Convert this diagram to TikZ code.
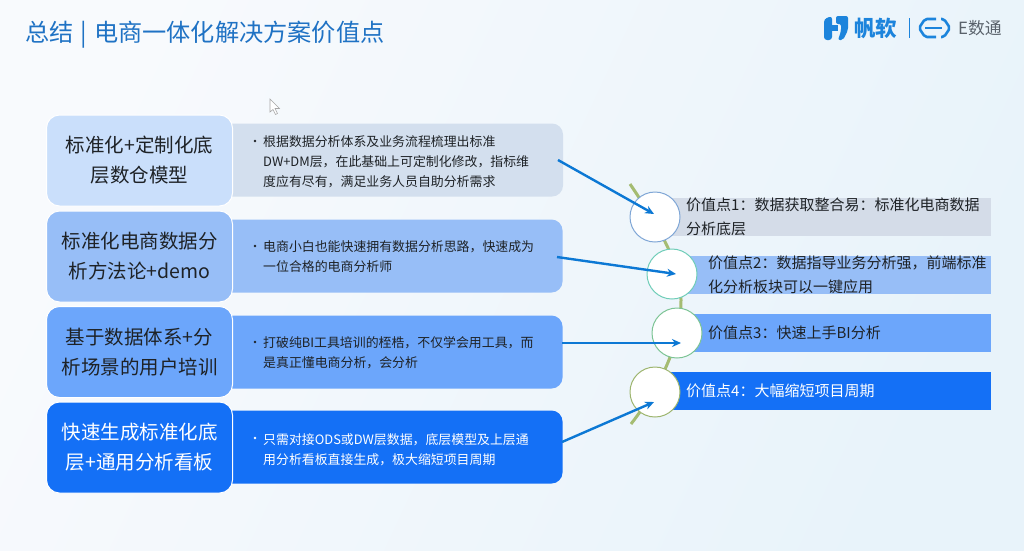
\documentclass[tikz,border=0pt]{standalone}
\usepackage{xcolor}
\usepackage{fontspec}
\setmainfont{Noto Sans CJK SC}
\usetikzlibrary{arrows.meta}
\definecolor{pageleft}{HTML}{F8FAFD}
\definecolor{pageright}{HTML}{E8F3FA}
\definecolor{titleblue}{HTML}{1F72C4}
\definecolor{logoblue}{HTML}{1C84DC}
\definecolor{logogray}{HTML}{5A626B}
\definecolor{inkdark}{HTML}{1E2226}
\definecolor{stemgreen}{HTML}{A5BC72}
\definecolor{linkblue}{HTML}{0C78D4}
\definecolor{toneone}{HTML}{CADFFB}
\definecolor{tonetwo}{HTML}{97BEF7}
\definecolor{tonethree}{HTML}{6CA6FB}
\definecolor{tonefour}{HTML}{1470F6}
\definecolor{detailone}{HTML}{D3DFEE}
\definecolor{barone}{HTML}{D4DCE8}
\definecolor{ringone}{HTML}{7FA6D6}
\definecolor{ringtwo}{HTML}{6FCDB8}
\definecolor{ringthree}{HTML}{7CC494}
\definecolor{ringfour}{HTML}{9DB56E}

\begin{document}
\begin{tikzpicture}[
  x=1pt,
  y=-1pt,
  every node/.style={inkdark},
  topicbox/.style={draw=white, line width=1pt, rounded corners=13pt, minimum width=186pt,
    minimum height=91pt, align=center, inner sep=0pt, font=\fontsize{19.5}{30}\selectfont},
  detailbox/.style={rounded corners=11pt, minimum width=348pt, minimum height=73pt, inner sep=0pt},
  detailtext/.style={anchor=west, align=left, inner sep=0pt, font=\fontsize{12.9}{20}\selectfont},
  dotmark/.style={circle, inner sep=0pt, minimum size=2.6pt},
  valuebar/.style={anchor=east, minimum width=310pt, minimum height=38pt, inner sep=0pt},
  valuetext/.style={anchor=west, align=left, inner sep=0pt, font=\fontsize{15}{24}\selectfont},
  ring/.style={circle, fill=white, line width=1pt, minimum size=50pt, inner sep=0pt},
  link/.style={linkblue, line width=2.4pt, -{Stealth[length=9pt, width=8pt]}},
  stem/.style={stemgreen, line width=3pt}
]
  \useasboundingbox (0,0) rectangle (1024,550);
  % ---- page and heading ------------------------------------------------
  \shade[left color=pageleft, right color=pageright, shading angle=65] (0,0) rectangle (1024,550);
  \node[anchor=west, inner sep=0pt, titleblue, font=\fontsize{24.2}{28}\selectfont] (heading) at (25,35)
    {总结\hspace{7pt}|\hspace{7pt}电商一体化解决方案价值点};

  % ---- logos -----------------------------------------------------------
  \fill[logoblue, rounded corners=3pt] (824,19) -- (832,16) -- (832,40) -- (824,40) -- cycle;
  \fill[logoblue, rounded corners=2pt] (836,16) -- (848,16) -- (848,30) -- (843,40) -- (838,40) -- (841,31) -- (841,24) -- (836,24) -- cycle;
  \fill[logoblue] (832,25) rectangle (838,31);
  \node[anchor=west, inner sep=0pt, logoblue, font=\bfseries\fontsize{21.5}{24}\selectfont] (brand) at (854,28) {帆软};
  \draw[logoblue, line width=1pt] (909,18) -- (909,38);
  \draw[logoblue, line width=2.6pt, line join=round, rounded corners=2pt] (936,19) -- (925,19) -- (919,28) -- (925,37) -- (936,37);
  \draw[logoblue, line width=2.6pt] (925,28) -- (942,28);
  \draw[logoblue, line width=2.6pt, line join=round, rounded corners=2pt] (941,19) -- (944,19) -- (950,28) -- (944,37) -- (941,37);
  \node[anchor=west, inner sep=0pt, logogray, font=\fontsize{16.8}{18}\selectfont] (product) at (958,28) {E数通};

  % ---- pointer ---------------------------------------------------------
  \draw[gray!70, fill=white, line width=0.6pt] (270,99) -- (270,112) -- (273,109.5) -- (275.5,114.5) -- (277.5,113.5) -- (275,108.5) -- (279.5,108.5) -- cycle;

  % ---- stem behind the rings -------------------------------------------
  \draw[stem] (630,184) .. controls (668,240) and (681,270) .. (681,300)
    .. controls (681,340) and (665,380) .. (631,424);

  % ---- value bars ------------------------------------------------------
  \node[valuebar, fill=barone, minimum width=335pt] (bar1) at (991,217) {};
  \node[valuebar, fill=tonetwo] (bar2) at (991,275) {};
  \node[valuebar, fill=tonethree] (bar3) at (991,333) {};
  \node[valuebar, fill=tonefour, minimum width=335pt] (bar4) at (991,391) {};

  \node[ring, draw=ringone] (ring1) at (655,217) {};
  \node[ring, draw=ringtwo] (ring2) at (672,274) {};
  \node[ring, draw=ringthree] (ring3) at (677,333) {};
  \node[ring, draw=ringfour] (ring4) at (655,392) {};

  \node[valuetext] (val1) at (686,217) {价值点1：数据获取整合易：标准化电商数据\\分析底层};
  \node[valuetext] (val2) at (708,275) {价值点2：数据指导业务分析强，前端标准\\化分析板块可以一键应用};
  \node[valuetext] (val3) at (708,333) {价值点3：快速上手BI分析};
  \node[valuetext, white] (val4) at (686,391) {价值点4：大幅缩短项目周期};

  % ---- detail boxes ----------------------------------------------------
  \node[detailbox, fill=detailone] (det1) at (389,160) {};
  \node[detailbox, fill=tonetwo] (det2) at (388.5,256) {};
  \node[detailbox, fill=tonethree] (det3) at (388.5,352) {};
  \node[detailbox, fill=tonefour] (det4) at (388.5,447) {};

  \node[detailtext] (txt1) at (263,161.5) {根据数据分析体系及业务流程梳理出标准\\DW+DM层，在此基础上可定制化修改，指标维\\度应有尽有，满足业务人员自助分析需求};
  \node[detailtext] (txt2) at (263,257) {电商小白也能快速拥有数据分析思路，快速成为\\一位合格的电商分析师};
  \node[detailtext] (txt3) at (263,353) {打破纯BI工具培训的桎梏，不仅学会用工具，而\\是真正懂电商分析，会分析};
  \node[detailtext, white] (txt4) at (263,450) {只需对接ODS或DW层数据，底层模型及上层通\\用分析看板直接生成，极大缩短项目周期};

  \node[dotmark, fill=inkdark] (dot1) at (255,141) {};
  \node[dotmark, fill=inkdark] (dot2) at (255,246) {};
  \node[dotmark, fill=inkdark] (dot3) at (255,342) {};
  \node[dotmark, fill=white] (dot4) at (255,438) {};

  % ---- topic boxes -----------------------------------------------------
  \node[topicbox, fill=toneone] (top1) at (139.5,160.5) {标准化+定制化底\\层数仓模型};
  \node[topicbox, fill=tonetwo] (top2) at (139.5,256.5) {标准化电商数据分\\析方法论+demo};
  \node[topicbox, fill=tonethree] (top3) at (139.5,352) {基于数据体系+分\\析场景的用户培训};
  \node[topicbox, fill=tonefour, text=white] (top4) at (139.5,447.5) {快速生成标准化底\\层+通用分析看板};

  % ---- links -----------------------------------------------------------
  \coordinate (out1) at (558,160);
  \coordinate (out2) at (557,257);
  \coordinate (out3) at (562,343);
  \coordinate (out4) at (562,442);
  \coordinate (in1) at (654,214);
  \coordinate (in2) at (676,274);
  \coordinate (in3) at (681,343);
  \coordinate (in4) at (654,402);
  \draw[link] (out1) -- (in1);
  \draw[link] (out2) -- (in2);
  \draw[link] (out3) -- (in3);
  \draw[link] (out4) -- (in4);
\end{tikzpicture}
\end{document}
